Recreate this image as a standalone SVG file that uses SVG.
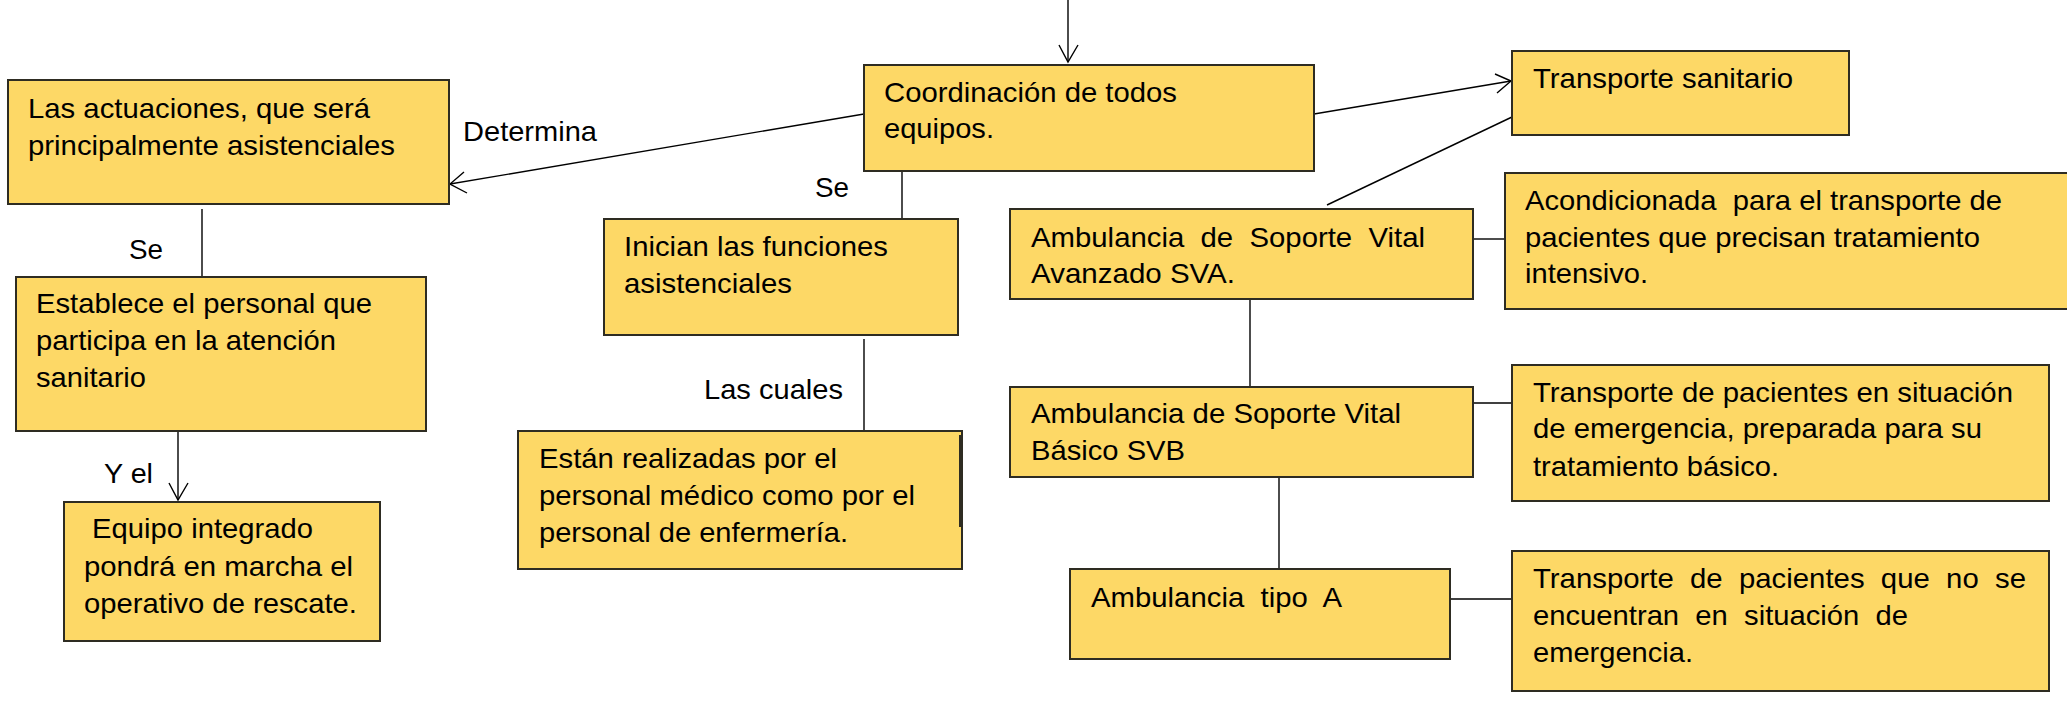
<svg xmlns="http://www.w3.org/2000/svg" width="2067" height="702" viewBox="0 0 2067 702">
<style>
.box{fill:#FDD866;stroke:#2e2c22;stroke-width:2}
text{font-family:"Liberation Sans",Arial,sans-serif;font-size:28px;fill:#000}
.c{stroke:#000;stroke-width:1.4;fill:none}
</style>
<rect width="2067" height="702" fill="#fff"/>
<g id="connectors">
<line class="c" x1="1068" y1="0" x2="1068" y2="62"/>
<polyline class="c" points="1059,45 1068,62 1078,45"/>
<line class="c" x1="864" y1="114" x2="450" y2="184"/>
<polyline class="c" points="464,172 450,184 467,193"/>
<line class="c" x1="1314" y1="114" x2="1511" y2="81"/>
<polyline class="c" points="1495,74 1511,81 1497,93"/>
<line class="c" x1="1512" y1="117" x2="1327" y2="205"/>
<line class="c" x1="902" y1="171" x2="902" y2="219"/>
<line class="c" x1="864" y1="339" x2="864" y2="431"/>
<line class="c" x1="202" y1="209" x2="202" y2="277"/>
<line class="c" x1="178" y1="431" x2="178" y2="500"/>
<polyline class="c" points="169,483 178,500 188,483"/>
<line class="c" x1="1473" y1="239" x2="1505" y2="239"/>
<line class="c" x1="1250" y1="299" x2="1250" y2="387"/>
<line class="c" x1="1473" y1="403" x2="1512" y2="403"/>
<line class="c" x1="1279" y1="477" x2="1279" y2="569"/>
<line class="c" x1="1450" y1="599" x2="1512" y2="599"/>
<text x="463" y="141" textLength="134" lengthAdjust="spacingAndGlyphs">Determina</text>
<text x="129" y="259" textLength="34" lengthAdjust="spacingAndGlyphs">Se</text>
<text x="104" y="483" textLength="49" lengthAdjust="spacingAndGlyphs">Y el</text>
<text x="815" y="197" textLength="34" lengthAdjust="spacingAndGlyphs">Se</text>
<text x="704" y="399" textLength="139" lengthAdjust="spacingAndGlyphs">Las cuales</text>
</g>
<g id="n-coord">
<rect class="box" x="864" y="65" width="450" height="106"/>
<text x="884" y="102" textLength="293" lengthAdjust="spacingAndGlyphs">Coordinación de todos</text>
<text x="884" y="138" textLength="110" lengthAdjust="spacingAndGlyphs">equipos.</text>
</g>
<g id="n-actuaciones">
<rect class="box" x="8" y="80" width="441" height="124"/>
<text x="28" y="118" textLength="342" lengthAdjust="spacingAndGlyphs">Las actuaciones, que será</text>
<text x="28" y="155" textLength="367" lengthAdjust="spacingAndGlyphs">principalmente asistenciales</text>
</g>
<g id="n-establece">
<rect class="box" x="16" y="277" width="410" height="154"/>
<text x="36" y="313" textLength="336" lengthAdjust="spacingAndGlyphs">Establece el personal que</text>
<text x="36" y="350" textLength="300" lengthAdjust="spacingAndGlyphs">participa en la atención</text>
<text x="36" y="387" textLength="110" lengthAdjust="spacingAndGlyphs">sanitario</text>
</g>
<g id="n-equipo">
<rect class="box" x="64" y="502" width="316" height="139"/>
<text x="84" y="538" textLength="229" lengthAdjust="spacingAndGlyphs" xml:space="preserve"> Equipo integrado</text>
<text x="84" y="576" textLength="269" lengthAdjust="spacingAndGlyphs">pondrá en marcha el</text>
<text x="84" y="613" textLength="273" lengthAdjust="spacingAndGlyphs">operativo de rescate.</text>
</g>
<g id="n-inician">
<rect class="box" x="604" y="219" width="354" height="116"/>
<text x="624" y="256" textLength="264" lengthAdjust="spacingAndGlyphs">Inician las funciones</text>
<text x="624" y="293" textLength="168" lengthAdjust="spacingAndGlyphs">asistenciales</text>
</g>
<g id="n-estan">
<rect class="box" x="518" y="431" width="444" height="138"/>
<line x1="960" y1="435" x2="960" y2="527" stroke="#2e2c22" stroke-width="2"/>
<text x="539" y="468" textLength="298" lengthAdjust="spacingAndGlyphs">Están realizadas por el</text>
<text x="539" y="505" textLength="376" lengthAdjust="spacingAndGlyphs">personal médico como por el</text>
<text x="539" y="542" textLength="309" lengthAdjust="spacingAndGlyphs">personal de enfermería.</text>
</g>
<g id="n-transporte">
<rect class="box" x="1512" y="51" width="337" height="84"/>
<text x="1533" y="88" textLength="260" lengthAdjust="spacingAndGlyphs">Transporte sanitario</text>
</g>
<g id="n-sva">
<rect class="box" x="1010" y="209" width="463" height="90"/>
<text x="1031" y="247" textLength="394" lengthAdjust="spacingAndGlyphs" xml:space="preserve">Ambulancia  de  Soporte  Vital</text>
<text x="1031" y="283" textLength="204" lengthAdjust="spacingAndGlyphs">Avanzado SVA.</text>
</g>
<g id="n-sva-desc">
<rect class="box" x="1505" y="173" width="580" height="136"/>
<text x="1525" y="210" textLength="477" lengthAdjust="spacingAndGlyphs" xml:space="preserve">Acondicionada  para el transporte de</text>
<text x="1525" y="247" textLength="455" lengthAdjust="spacingAndGlyphs">pacientes que precisan tratamiento</text>
<text x="1525" y="283" textLength="123" lengthAdjust="spacingAndGlyphs">intensivo.</text>
</g>
<g id="n-svb">
<rect class="box" x="1010" y="387" width="463" height="90"/>
<text x="1031" y="423" textLength="370" lengthAdjust="spacingAndGlyphs">Ambulancia de Soporte Vital</text>
<text x="1031" y="460" textLength="154" lengthAdjust="spacingAndGlyphs">Básico SVB</text>
</g>
<g id="n-svb-desc">
<rect class="box" x="1512" y="365" width="537" height="136"/>
<text x="1533" y="402" textLength="480" lengthAdjust="spacingAndGlyphs">Transporte de pacientes en situación</text>
<text x="1533" y="438" textLength="449" lengthAdjust="spacingAndGlyphs">de emergencia, preparada para su</text>
<text x="1533" y="476" textLength="246" lengthAdjust="spacingAndGlyphs">tratamiento básico.</text>
</g>
<g id="n-tipoa">
<rect class="box" x="1070" y="569" width="380" height="90"/>
<text x="1091" y="607" textLength="251" lengthAdjust="spacingAndGlyphs" xml:space="preserve">Ambulancia  tipo  A</text>
</g>
<g id="n-tipoa-desc">
<rect class="box" x="1512" y="551" width="537" height="140"/>
<text x="1533" y="588" textLength="493" lengthAdjust="spacingAndGlyphs" xml:space="preserve">Transporte  de  pacientes  que  no  se</text>
<text x="1533" y="625" textLength="375" lengthAdjust="spacingAndGlyphs" xml:space="preserve">encuentran  en  situación  de</text>
<text x="1533" y="662" textLength="160" lengthAdjust="spacingAndGlyphs">emergencia.</text>
</g>
</svg>
